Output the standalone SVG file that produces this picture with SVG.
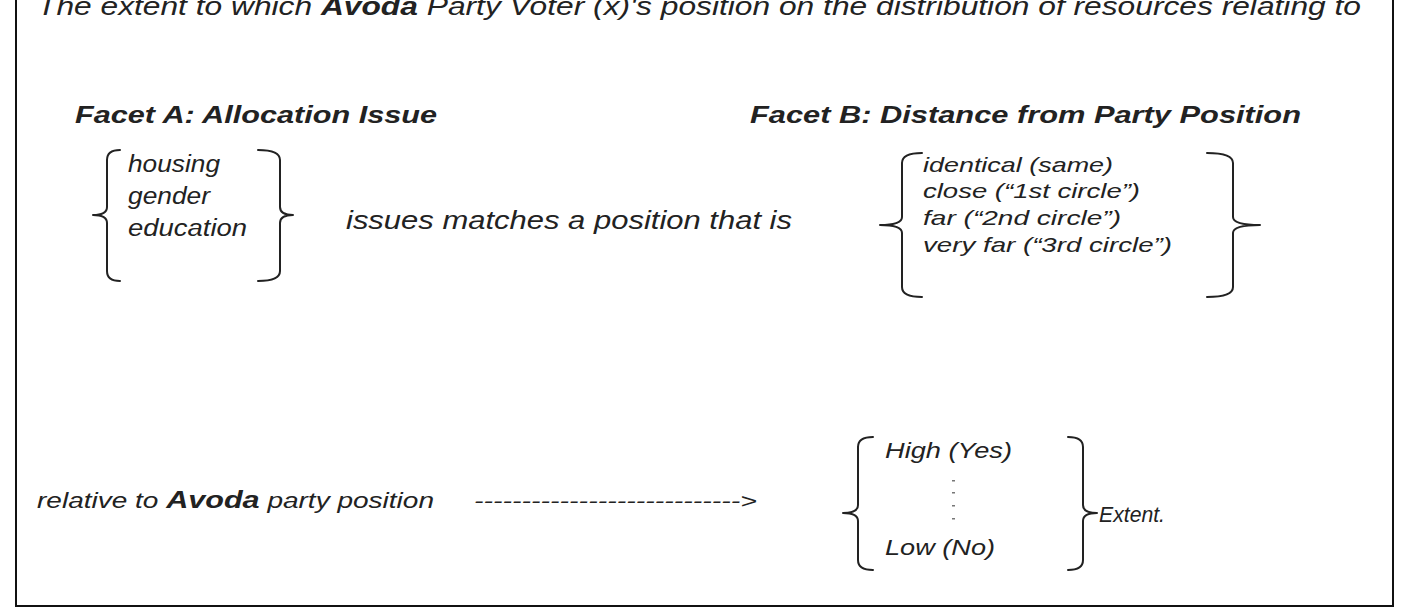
<svg xmlns="http://www.w3.org/2000/svg" width="1408" height="609" viewBox="0 0 1408 609">
<style>
.t{font-family:"Liberation Sans",Arial,sans-serif;font-style:italic;fill:#222}
.b{font-weight:bold}
.br{fill:none;stroke:#222;stroke-width:2;stroke-linejoin:round;stroke-linecap:round}
.frame{fill:none;stroke:#111;stroke-width:2}
</style>
<rect width="1408" height="609" fill="#fff"/>
<path class="frame" d="M16,0 V606 H1393 V0"/>
<g id="title">
<text class="t" x="37" y="15" font-size="25" textLength="1324" lengthAdjust="spacingAndGlyphs">The extent to which <tspan class="b">Avoda</tspan> Party Voter (x)'s position on the distribution of resources relating to</text>
</g>
<g id="facetA">
<text class="t b" x="75" y="123" font-size="23" textLength="362" lengthAdjust="spacingAndGlyphs">Facet A: Allocation Issue</text>
<path class="br" d="M120,150 Q107,150 107,160 L107,207 Q107,215 93,215 Q107,215 107,223 L107,271 Q107,281 120,281"/>
<path class="br" d="M258,150 Q280,150 280,160 L280,207 Q280,215 293,215 Q280,215 280,223 L280,271 Q280,281 258,281"/>
<text class="t" x="128" y="172" font-size="23" textLength="92" lengthAdjust="spacingAndGlyphs">housing</text>
<text class="t" x="128" y="204" font-size="23" textLength="82" lengthAdjust="spacingAndGlyphs">gender</text>
<text class="t" x="128" y="236" font-size="23" textLength="119" lengthAdjust="spacingAndGlyphs">education</text>
</g>
<g id="middle">
<text class="t" x="346" y="229" font-size="25" textLength="446" lengthAdjust="spacingAndGlyphs">issues matches a position that is</text>
</g>
<g id="facetB">
<text class="t b" x="750" y="123" font-size="23" textLength="551" lengthAdjust="spacingAndGlyphs">Facet B: Distance from Party Position</text>
<path class="br" d="M922,153 Q902,153 902,163 L902,217 Q902,225 880,225 Q902,225 902,233 L902,287 Q902,297 922,297"/>
<path class="br" d="M1207,153 Q1233,153 1233,163 L1233,217 Q1233,225 1260,225 Q1233,225 1233,233 L1233,287 Q1233,297 1207,297"/>
<text class="t" x="923" y="172" font-size="21" textLength="190" lengthAdjust="spacingAndGlyphs">identical (same)</text>
<text class="t" x="923" y="198" font-size="21" textLength="217" lengthAdjust="spacingAndGlyphs">close (“1st circle”)</text>
<text class="t" x="923" y="225" font-size="21" textLength="198" lengthAdjust="spacingAndGlyphs">far (“2nd circle”)</text>
<text class="t" x="923" y="252" font-size="21" textLength="249" lengthAdjust="spacingAndGlyphs">very far (“3rd circle”)</text>
</g>
<g id="relative">
<text class="t" x="37" y="508" font-size="22" textLength="397" lengthAdjust="spacingAndGlyphs">relative to <tspan class="b" font-size="24">Avoda</tspan> party position</text>
</g>
<g id="connectors">
<text class="t" x="474" y="508" font-size="20" textLength="283" lengthAdjust="spacingAndGlyphs" fill="#333">----------------------------&gt;</text>
</g>
<g id="extent">
<path class="br" d="M873,437 Q858,437 858,447 L858,505 Q858,513 843,513 Q858,513 858,521 L858,560 Q858,570 873,570"/>
<path class="br" d="M1068,437 Q1083,437 1083,447 L1083,505 Q1083,513 1097,513 Q1083,513 1083,521 L1083,560 Q1083,570 1068,570"/>
<text class="t" x="885" y="458" font-size="22" textLength="127" lengthAdjust="spacingAndGlyphs">High (Yes)</text>
<g fill="#777">
<rect x="952" y="480" width="3" height="1.5"/>
<rect x="952" y="492" width="3" height="1.5"/>
<rect x="952" y="505" width="3" height="1.5"/>
<rect x="952" y="518" width="3" height="1.5"/>
</g>
<text class="t" x="885" y="555" font-size="22" textLength="110" lengthAdjust="spacingAndGlyphs">Low (No)</text>
<text class="t" x="1099" y="522" font-size="22" textLength="66" lengthAdjust="spacingAndGlyphs">Extent.</text>
</g>
</svg>
